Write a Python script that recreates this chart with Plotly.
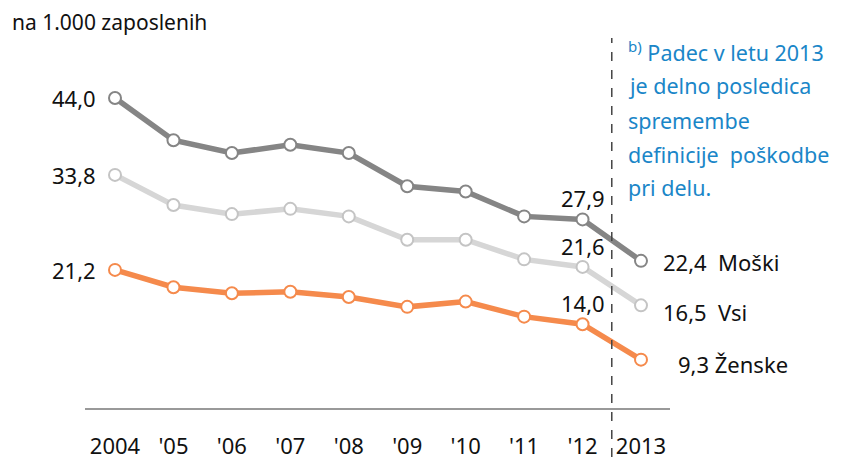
import plotly.graph_objects as go

years = [2004, 2005, 2006, 2007, 2008, 2009, 2010, 2011, 2012, 2013]
tick_labels = ["2004", "'05", "'06", "'07", "'08", "'09", "'10", "'11", "'12", "2013"]
moski = [44.0, 38.4, 36.7, 37.8, 36.7, 32.3, 31.6, 28.3, 27.9, 22.4]
vsi = [33.8, 29.8, 28.6, 29.3, 28.3, 25.2, 25.2, 22.6, 21.6, 16.5]
zenske = [21.2, 18.9, 18.1, 18.3, 17.6, 16.3, 17.0, 15.0, 14.0, 9.3]
series_names = ["Moški", "Vsi", "Ženske"]
note_lines = ["<sup>b)</sup> Padec v letu 2013", "je delno posledica", "spremembe",
              "definicije  poškodbe", "pri delu."]
unit_label = "na 1.000 zaposlenih"

FONT = "Noto Sans"
colors = {"Moški": "#858585", "Vsi": "#d6d6d6", "Ženske": "#f58a4c"}
mcolors = {"Moški": "#858585", "Vsi": "#c4c4c4", "Ženske": "#f58a4c"}
data = {"Moški": moski, "Vsi": vsi, "Ženske": zenske}

# page has an 8px body margin; figure pixel = target pixel - 8
OFF = 8
ML, MR = 85 - OFF, 846 - (670 - OFF)
MT, MB = 0, 457 - (408 - OFF)
PW = 846 - ML - MR
PH = 457 - MT - MB

def px(x):
    return (x - OFF - ML) / PW

def py(y):
    return (457 - MB - (y - OFF)) / PH

def fmt(v):
    return f"{v:.1f}".replace(".", ",")

fig = go.Figure()
for name in ["Vsi", "Ženske", "Moški"]:
    fig.add_trace(go.Scatter(
        x=years, y=data[name], mode="lines+markers", name=name,
        line=dict(color=colors[name], width=5.5),
        marker=dict(size=12, color="white", line=dict(color=mcolors[name], width=2)),
        cliponaxis=False,
    ))

NUMF = dict(family=FONT, size=22, color="#111")
ann = []
for name in series_names:
    v = data[name][0]
    ann.append(dict(x=years[0], y=v, text=fmt(v), xanchor="right", xshift=-17,
                    yanchor="middle", showarrow=False, font=NUMF))
for name in series_names:
    v = data[name][8]
    ann.append(dict(x=years[8], y=v, text=fmt(v), xanchor="center", yanchor="bottom",
                    yshift=4, showarrow=False, font=NUMF))
end_text = {"Moški": fmt(moski[-1]) + "  Moški", "Vsi": fmt(vsi[-1]) + "  Vsi",
            "Ženske": fmt(zenske[-1]) + " Ženske"}
end_shift = {"Moški": 20, "Vsi": 20, "Ženske": 35}
end_yshift = {"Moški": -1, "Vsi": -7, "Ženske": -4}
for name in series_names:
    v = data[name][-1]
    ann.append(dict(x=years[-1], y=v, text=end_text[name], xanchor="left",
                    xshift=end_shift[name], yshift=end_yshift[name],
                    yanchor="middle", showarrow=False, font=NUMF))
ann.append(dict(xref="paper", yref="paper", x=px(10), y=py(22),
                text=unit_label, xanchor="left", yanchor="middle", showarrow=False,
                font=dict(family=FONT, size=21, color="#111")))
for i, line in enumerate(note_lines):
    ann.append(dict(xref="paper", yref="paper", x=px(626),
                    y=py(52 + i * 34), text=line, xanchor="left",
                    yanchor="middle", showarrow=False,
                    font=dict(family=FONT, size=21.5, color="#1a86c8")))

y_bottom = 44 - (408 - 98) / 7.54
y_top = 44 + (98 - OFF) / 7.54
x_left = 2004 - (115 - 85) / 58.44
x_right = 2013 + (670 - 641) / 58.44

fig.update_layout(
    width=846, height=457,
    margin=dict(l=ML, r=MR, t=MT, b=MB),
    paper_bgcolor="white", plot_bgcolor="white",
    showlegend=False,
    annotations=ann,
    shapes=[dict(type="line", xref="x", yref="paper", x0=2012.5, x1=2012.5,
                 y0=py(457), y1=py(38),
                 line=dict(color="#444", width=1.5, dash="dash"))],
    xaxis=dict(range=[x_left, x_right], tickmode="array", tickvals=years,
               ticktext=tick_labels, showgrid=False, zeroline=False,
               showline=True, linecolor="#999", linewidth=2,
               ticks="outside", ticklen=18, tickcolor="rgba(0,0,0,0)",
               tickfont=dict(family=FONT, size=22, color="#111")),
    yaxis=dict(range=[y_bottom, y_top], visible=False, showgrid=False, zeroline=False),
)
fig.write_html("out.html")
